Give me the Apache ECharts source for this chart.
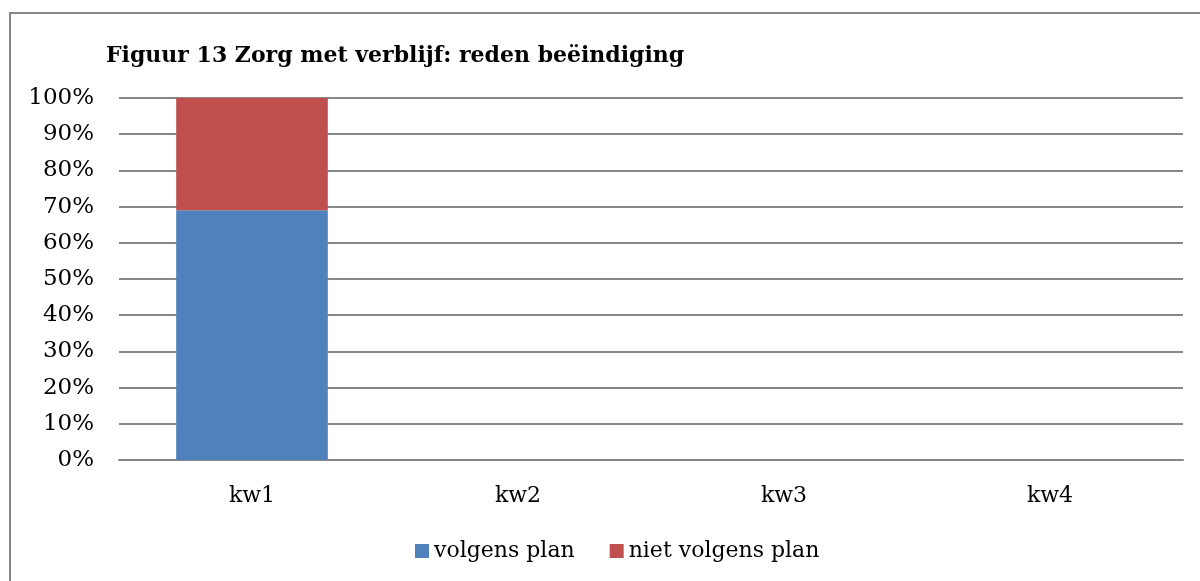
<!DOCTYPE html>
<html>
<head>
    <meta charset="UTF-8">
    <title>Figuur 13</title>
    <script src="https://cdn.jsdelivr.net/npm/echarts@6/dist/echarts.min.js"></script>
    <style>
        html, body { margin: 0; padding: 0; background: #fff; }
        #main { width: 1200px; height: 581px; }
    </style>
</head>
<body>
<div id="main"></div>
<script type="text/javascript">
    // gegevens
    var kwartalen = ['kw1', 'kw2', 'kw3', 'kw4'];
    var volgensPlan = [69, null, null, null];
    var nietVolgensPlan = [31, null, null, null];
    var serieNamen = ['volgens plan', 'niet volgens plan'];
    var titel = 'Figuur 13 Zorg met verblijf: reden beëindiging';

    var font = 'DejaVu Serif';
    var myChart = echarts.init(document.getElementById('main'));
    var option = {
        backgroundColor: '#fff',
        color: ['#4F81BD', '#C0504D'],
        animation: false,
        title: {
            text: titel,
            left: 101,
            top: 40,
            textStyle: {
                fontFamily: font,
                fontSize: 22,
                fontWeight: 'bold',
                color: '#000'
            }
        },
        graphic: [{
            type: 'rect',
            shape: {x: 10, y: 13, width: 1300, height: 700},
            style: {fill: 'none', stroke: '#878787', lineWidth: 2},
            silent: true
        }],
        legend: {
            data: serieNamen,
            bottom: 14,
            left: 410,
            icon: 'rect',
            itemWidth: 14,
            itemHeight: 14,
            itemGap: 35,
            textStyle: {
                fontFamily: font,
                fontSize: 22,
                color: '#000'
            }
        },
        grid: {
            left: 119,
            right: 17,
            top: 98,
            bottom: 121
        },
        xAxis: {
            type: 'category',
            data: kwartalen,
            axisTick: {show: false},
            axisLine: {lineStyle: {color: '#878787', width: 2}},
            axisLabel: {
                margin: 25,
                fontFamily: font,
                fontSize: 22,
                color: '#000'
            }
        },
        yAxis: {
            type: 'value',
            min: 0,
            max: 100,
            interval: 10,
            axisLine: {show: false},
            axisTick: {show: false},
            splitLine: {lineStyle: {color: '#878787', width: 2}},
            axisLabel: {
                margin: 25,
                formatter: '{value}%',
                fontFamily: font,
                fontSize: 23,
                color: '#000'
            }
        },
        series: [
            {
                name: serieNamen[0],
                type: 'bar',
                stack: 'totaal',
                barWidth: '57%',
                data: volgensPlan
            },
            {
                name: serieNamen[1],
                type: 'bar',
                stack: 'totaal',
                barWidth: '57%',
                data: nietVolgensPlan
            }
        ]
    };
    myChart.setOption(option);
</script>
</body>
</html>
